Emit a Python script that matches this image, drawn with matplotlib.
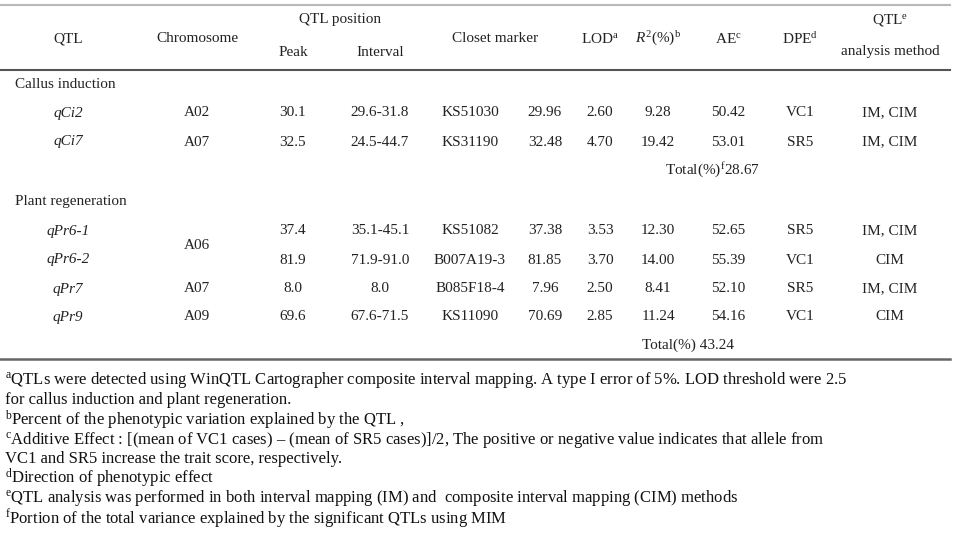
import matplotlib
matplotlib.use("Agg")
import matplotlib.pyplot as plt

plt.rcParams['font.family'] = ['Liberation Serif', 'DejaVu Serif']
plt.rcParams['mathtext.fontset'] = 'custom'
plt.rcParams['mathtext.rm'] = 'Liberation Serif'
plt.rcParams['mathtext.it'] = 'Liberation Serif:italic'

# ---- data ----
header_top = ["QTL position", "QTL$^{\\rm e}$"]
header_mid = ["QTL", "Chromosome", "Closet marker", "LOD$^{\\rm a}$",
              "$R^{2}$(%)$^{\\rm b}$", "AE$^{\\rm c}$", "DPE$^{\\rm d}$"]
header_low = ["Peak", "Interval", "analysis method"]

groups = ["Callus induction", "Plant regeneration"]
qtl = [["qCi2", "qCi7"], ["qPr6-1", "qPr6-2", "qPr7", "qPr9"]]
chrom = [["A02", "A07"], ["A06", "A06", "A07", "A09"]]
peak = [["30.1", "32.5"], ["37.4", "81.9", "8.0", "69.6"]]
interval = [["29.6-31.8", "24.5-44.7"], ["35.1-45.1", "71.9-91.0", "8.0", "67.6-71.5"]]
marker = [["KS51030", "KS31190"], ["KS51082", "B007A19-3", "B085F18-4", "KS11090"]]
marker_pos = [["29.96", "32.48"], ["37.38", "81.85", "7.96", "70.69"]]
lod = [["2.60", "4.70"], ["3.53", "3.70", "2.50", "2.85"]]
r2 = [["9.28", "19.42"], ["12.30", "14.00", "8.41", "11.24"]]
ae = [["50.42", "53.01"], ["52.65", "55.39", "52.10", "54.16"]]
dpe = [["VC1", "SR5"], ["SR5", "VC1", "SR5", "VC1"]]
method = [["IM, CIM", "IM, CIM"], ["IM, CIM", "CIM", "IM, CIM", "CIM"]]
totals = ["Total(%)$^{\\rm f}$28.67", "Total(%) 43.24"]

footnotes = [
    "$^{\\rm a}$QTLs were detected using WinQTL Cartographer composite interval mapping. A type I error of 5%. LOD threshold were 2.5",
    "for callus induction and plant regeneration.",
    "$^{\\rm b}$Percent of the phenotypic variation explained by the QTL ,",
    "$^{\\rm c}$Additive Effect : [(mean of VC1 cases) \u2013 (mean of SR5 cases)]/2, The positive or negative value indicates that allele from",
    "VC1 and SR5 increase the trait score, respectively.",
    "$^{\\rm d}$Direction of phenotypic effect",
    "$^{\\rm e}$QTL analysis was performed in both interval mapping (IM) and  composite interval mapping (CIM) methods",
    "$^{\\rm f}$Portion of the total variance explained by the significant QTLs using MIM",
]

# ---- layout ----
W, H = 963, 552
fig = plt.figure(figsize=(W / 100, H / 100), dpi=100)
ax = fig.add_axes([0, 0, 1, 1])
ax.set_xlim(0, W)
ax.set_ylim(H, 0)
ax.axis('off')

fs = 11
col_x = [68, 197, 293, 380, 470, 545, 600, 658, 728, 800, 890]


def t(x, y, s, ha='center', fontsize=fs, color='#222222', **kw):
    ax.text(x, y, s, ha=ha, va='center', fontsize=fontsize, color=color, **kw)


# rules
ax.plot([0, 950], [5, 5], color='#b8b8b8', lw=1.5)
ax.plot([0, 950], [70, 70], color='#555555', lw=1.5)
ax.plot([0, 950], [359, 359], color='#666666', lw=1.8)

# header
t(340, 20, header_top[0])
t(col_x[10], 20, header_top[1])
mid_x = [col_x[0], col_x[1], 495, col_x[6], col_x[7], col_x[8], col_x[9]]
for x, s in zip(mid_x, header_mid):
    t(x, 39, s)
t(col_x[2], 52, header_low[0])
t(col_x[3], 52, header_low[1])
t(col_x[10], 52, header_low[2])

# body
group_y = [85, 201]
row_y = [[113, 142], [231, 260, 289, 317]]
total_y = [170, 345]
total_x = [712, 688]
for g in range(2):
    t(15, group_y[g], groups[g], ha='left')
    n = len(row_y[g])
    for i, y in enumerate(row_y[g]):
        t(col_x[0], y, qtl[g][i], style='italic')
        same_prev = i > 0 and chrom[g][i] == chrom[g][i - 1]
        same_next = i < n - 1 and chrom[g][i] == chrom[g][i + 1]
        if same_next:
            t(col_x[1], (y + row_y[g][i + 1]) / 2, chrom[g][i])
        elif not same_prev:
            t(col_x[1], y, chrom[g][i])
        t(col_x[2], y, peak[g][i])
        t(col_x[3], y, interval[g][i])
        t(col_x[4], y, marker[g][i])
        t(col_x[5], y, marker_pos[g][i])
        t(col_x[6], y, lod[g][i])
        t(col_x[7], y, r2[g][i])
        t(col_x[8], y, ae[g][i])
        t(col_x[9], y, dpe[g][i])
        t(col_x[10], y, method[g][i])
    t(total_x[g], total_y[g], totals[g])

# footnotes
fn_y = [380, 400, 420, 440, 459, 478, 498, 519]
for y, s in zip(fn_y, footnotes):
    t(5, y, s, ha='left', fontsize=12.0, color='#111111')

fig.savefig("out.png", dpi=100)
